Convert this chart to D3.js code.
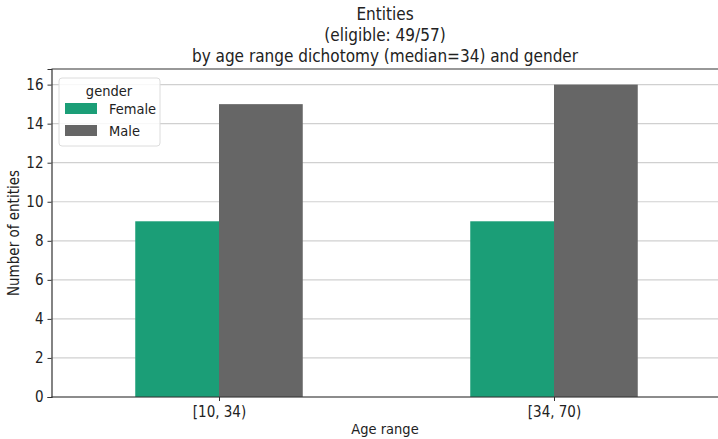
<!DOCTYPE html>
<html>
<head>
<meta charset="utf-8">
<script src="https://cdn.jsdelivr.net/npm/d3@7"></script>
<style>
  html, body { margin: 0; padding: 0; background: #fff; }
  svg { display: block; font-family: "DejaVu Sans Condensed", "DejaVu Sans", sans-serif; font-stretch: condensed; }
</style>
</head>
<body>
<svg id="chart" width="718" height="439"></svg>
<script>
// Counts of entities per age range, split by gender
const categories = ["[10, 34)", "[34, 70)"];
const genders = ["Female", "Male"];
const femaleCounts = [9, 9];
const maleCounts = [15, 16];
const yTicks = [0, 2, 4, 6, 8, 10, 12, 14, 16];
const titleLines = ["Entities", "(eligible: 49/57)", "by age range dichotomy (median=34) and gender"];
const colors = { Female: "#1b9e77", Male: "#666666" };

const series = { Female: femaleCounts, Male: maleCounts };

const svg = d3.select("#chart");
const margin = { left: 51.5, top: 69, right: 721.5, bottom: 397 };

// Positions 0..n-1 with half-unit padding, grouped bars 0.25 wide each
const x = d3.scaleLinear().domain([-0.5, categories.length - 0.5]).range([margin.left, margin.right]);
const y = d3.scaleLinear().domain([0, 16.8]).range([margin.bottom, margin.top]);
const barW = 0.25;

// Horizontal grid
svg.append("g").selectAll("line").data(yTicks).join("line")
  .attr("x1", margin.left).attr("x2", margin.right)
  .attr("y1", d => y(d)).attr("y2", d => y(d))
  .attr("stroke", "#d0d0d0").attr("stroke-width", 1.2);

// Bars
genders.forEach((g, gi) => {
  svg.append("g").selectAll("rect").data(series[g]).join("rect")
    .attr("x", (d, i) => x(i - barW + gi * barW))
    .attr("width", x(barW) - x(0))
    .attr("y", d => y(d))
    .attr("height", d => y(0) - y(d))
    .attr("fill", colors[g]);
});

// Axes
const yAxis = d3.axisLeft(y).tickValues(yTicks).tickSize(4).tickPadding(4);
const gy = svg.append("g").attr("transform", `translate(${margin.left},0)`).call(yAxis);
const xAxis = d3.axisBottom(x).tickValues(d3.range(categories.length))
  .tickFormat(i => categories[i]).tickSize(4).tickPadding(5);
const gx = svg.append("g").attr("transform", `translate(0,${margin.bottom})`).call(xAxis);
[gx, gy].forEach(g => {
  g.attr("font-family", null).attr("font-size", 15);
  g.selectAll("text").attr("fill", "#222");
  g.selectAll("line").attr("stroke", "#333").attr("stroke-width", 1);
  g.select(".domain").attr("stroke", "#333").attr("stroke-width", 1.2);
});
gx.select(".domain").remove();

// Frame lines
svg.append("line").attr("x1", margin.left).attr("x2", margin.right)
  .attr("y1", margin.bottom).attr("y2", margin.bottom).attr("stroke", "#333").attr("stroke-width", 1.2);
svg.append("line").attr("x1", margin.left).attr("x2", margin.right)
  .attr("y1", margin.top).attr("y2", margin.top).attr("stroke", "#333").attr("stroke-width", 1.2);

// Axis labels
svg.append("text").attr("x", 385).attr("y", 434)
  .attr("text-anchor", "middle").attr("font-size", 14.5).attr("fill", "#222").text("Age range");
svg.append("text").attr("transform", `translate(19,${(margin.top + margin.bottom) / 2}) rotate(-90)`)
  .attr("text-anchor", "middle").attr("font-size", 15).attr("fill", "#222").text("Number of entities");

// Title
svg.append("g").selectAll("text").data(titleLines).join("text")
  .attr("x", 385).attr("y", (d, i) => 20 + i * 21)
  .attr("text-anchor", "middle").attr("font-size", 17).attr("fill", "#222").text(d => d);

// Legend
const leg = svg.append("g").attr("transform", "translate(59,78)");
leg.append("rect").attr("width", 101).attr("height", 68).attr("rx", 3)
  .attr("fill", "#fff").attr("fill-opacity", 0.85).attr("stroke", "#dcdcdc");
leg.append("text").attr("x", 50).attr("y", 18).attr("text-anchor", "middle")
  .attr("font-size", 14.5).attr("fill", "#222").text("gender");
genders.forEach((g, i) => {
  leg.append("rect").attr("x", 6).attr("y", 25 + i * 22).attr("width", 32).attr("height", 11).attr("fill", colors[g]);
  leg.append("text").attr("x", 50).attr("y", 36 + i * 22).attr("font-size", 14.5).attr("fill", "#222").text(g);
});
</script>
</body>
</html>
